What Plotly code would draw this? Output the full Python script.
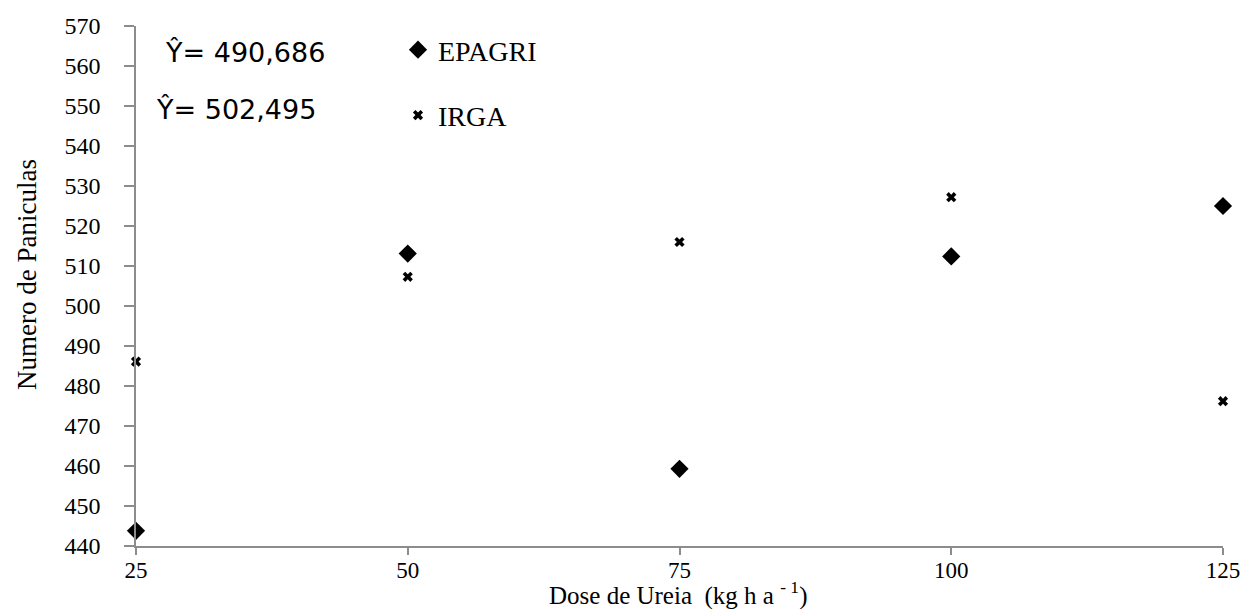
import plotly.graph_objects as go

doses = [25, 50, 75, 100, 125]
epagri = [443.8, 513.1, 459.3, 512.4, 525.0]
irga = [486.1, 507.3, 516.0, 527.2, 476.2]
y_ticks = [440, 450, 460, 470, 480, 490, 500, 510, 520, 530, 540, 550, 560, 570]
x_ticks = [25, 50, 75, 100, 125]
eq_epagri = "Ŷ= 490,686"
eq_irga = "Ŷ= 502,495"
x_title = "Dose de Ureia  (kg h a <sup>- 1</sup>)"
y_title = "Numero de Paniculas"

serif = "Liberation Serif, Times New Roman, serif"
sans = "DejaVu Sans, Verdana, sans-serif"
axis_col = "#8c8c8c"

W, H = 1251, 609
PL, PR, PT, PB = 136, 1223, 26, 546


def fx(px):
    return (px - PL) / (PR - PL)


def fy(py):
    return (PB - py) / (PB - PT)


fig = go.Figure()
fig.add_trace(go.Scatter(
    x=doses, y=epagri, mode="markers", name="EPAGRI", legendgroup="a",
    marker=dict(symbol="diamond", size=14, color="black"), cliponaxis=False))
fig.add_trace(go.Scatter(
    x=doses, y=irga, mode="markers", name="IRGA", legendgroup="b",
    marker=dict(symbol="x", size=9, color="black"), cliponaxis=False))

fig.add_annotation(x=fx(163), y=fy(52), xref="x domain", yref="y domain",
                   text=eq_epagri, showarrow=False, xanchor="left", yanchor="middle",
                   font=dict(family=sans, size=27, color="black"))
fig.add_annotation(x=fx(154), y=fy(109), xref="x domain", yref="y domain",
                   text=eq_irga, showarrow=False, xanchor="left", yanchor="middle",
                   font=dict(family=sans, size=27, color="black"))
# axis titles
fig.add_annotation(x=fx(678), y=fy(612), xref="x domain", yref="y domain",
                   text=x_title, showarrow=False, xanchor="center", yanchor="bottom",
                   font=dict(family=serif, size=25, color="black"))
fig.add_annotation(x=fx(27), y=fy(275), xref="x domain", yref="y domain",
                   text=y_title, showarrow=False, xanchor="center", yanchor="middle",
                   textangle=-90,
                   font=dict(family=serif, size=27, color="black"))

fig.update_layout(
    width=W, height=H,
    margin=dict(l=PL, r=W - PR, t=PT, b=H - PB, autoexpand=False),
    paper_bgcolor="white", plot_bgcolor="white",
    showlegend=True,
    legend=dict(x=fx(398), y=fy(25), xanchor="left", yanchor="top",
                font=dict(family=serif, size=28, color="black"),
                tracegroupgap=26, itemwidth=30, bgcolor="rgba(0,0,0,0)"),
    xaxis=dict(range=[25, 125], tickvals=x_ticks, showgrid=False, zeroline=False,
               automargin=False,
               showline=True, linecolor=axis_col, linewidth=1.5,
               ticks="outside", ticklen=7, tickcolor=axis_col, tickwidth=1.5,
               ticklabelstandoff=-4,
               tickfont=dict(family=serif, size=23, color="black")),
    yaxis=dict(range=[440, 570], tickvals=y_ticks, showgrid=False, zeroline=False,
               automargin=False,
               showline=True, linecolor=axis_col, linewidth=1.5,
               ticks="outside", ticklen=10, tickcolor=axis_col, tickwidth=1.5,
               ticklabelstandoff=19,
               tickfont=dict(family=serif, size=24, color="black")),
)

fig.write_html("out.html")
